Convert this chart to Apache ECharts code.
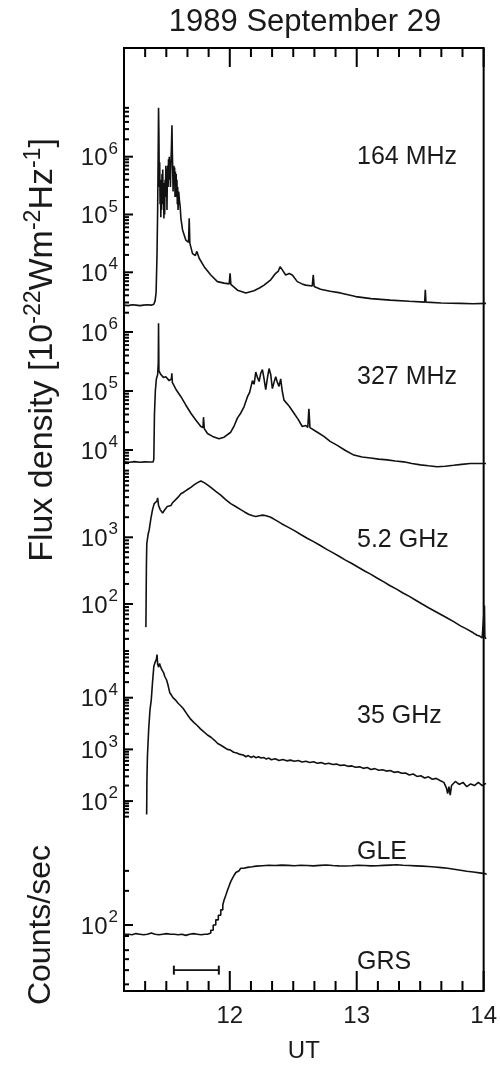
<!DOCTYPE html>
<html><head><meta charset="utf-8">
<script src="https://cdn.jsdelivr.net/npm/echarts@6/dist/echarts.min.js"></script>
<style>html,body{margin:0;padding:0;background:#fff}#c{width:500px;height:1068px}</style>
</head><body><div id="c"></div>
<script>
// ---------------- DATA (UT in decimal hours, flux in 1e-22 W m^-2 Hz^-1) ----------------
const ut164 = [11.167,11.20,11.23,11.26,11.29,11.32,11.35,11.38,11.40,11.41,11.418,11.425,11.430,11.434,11.437,11.440,11.443,11.446,11.449,11.452,11.455,11.458,11.461,11.464,11.467,11.470,11.473,11.476,11.479,11.482,11.485,11.488,11.491,11.494,11.497,11.500,11.503,11.506,11.509,11.512,11.515,11.518,11.521,11.524,11.527,11.530,11.534,11.538,11.542,11.545,11.548,11.551,11.554,11.557,11.560,11.563,11.566,11.569,11.572,11.575,11.578,11.581,11.584,11.587,11.590,11.595,11.600,11.606,11.612,11.625,11.651,11.672,11.677,11.682,11.703,11.725,11.737,11.755,11.794,11.846,11.898,11.95,11.99,11.997,12.003,12.016,12.055,12.12,12.184,12.23,12.263,12.315,12.354,12.375,12.388,12.406,12.432,12.46,12.484,12.523,12.56,12.588,12.64,12.648,12.655,12.705,12.78,12.86,12.98,13.1,13.25,13.4,13.52,13.525,13.53,13.65,13.8,13.9,14.0];
const flux164 = [2700,2650,2750,2700,2650,2700,2750,2700,2800,3200,4500,2.0e4,1.2e5,1.0e6,7.0e6,2.5e6,3.0e5,8.0e5,1.5e5,4.0e5,9.0e4,3.0e5,1.2e5,5.0e5,2.0e5,6.0e5,1.5e5,3.5e5,8.5e4,2.5e5,1.0e5,4.0e5,2.0e5,7.0e5,3.0e5,6.0e5,1.2e5,4.5e5,7.0e5,3.0e5,9.0e5,5.0e5,1.0e6,4.0e5,6.0e5,3.0e5,8.0e5,1.5e6,3.5e6,1.2e6,6.0e5,2.5e5,5.0e5,7.0e5,4.0e5,6.5e5,2.0e5,5.5e5,3.0e5,5.0e5,2.0e5,4.0e5,1.5e5,3.0e5,1.2e5,2.5e5,1.8e5,1.4e5,8.6e4,5.4e4,3.6e4,3.3e4,8.6e4,3.2e4,2.1e4,1.95e4,2.3e4,1.75e4,1.25e4,9.0e3,6.9e3,6.5e3,6.3e3,9.6e3,6.2e3,6.0e3,4.9e3,4.4e3,4.8e3,5.4e3,6.0e3,7.4e3,9.6e3,1.05e4,1.25e4,1.1e4,9.0e3,9.5e3,9.0e3,6.9e3,6.3e3,6.0e3,5.8e3,9.0e3,5.7e3,5.1e3,4.7e3,4.4e3,3.8e3,3.5e3,3.3e3,3.15e3,3.05e3,5.0e3,3.05e3,2.95e3,2.9e3,2.85e3,2.9e3];

const ut327 = [11.167,11.21,11.25,11.29,11.33,11.37,11.395,11.400,11.405,11.412,11.420,11.430,11.435,11.437,11.440,11.455,11.475,11.494,11.52,11.538,11.541,11.545,11.575,11.612,11.65,11.69,11.73,11.768,11.785,11.789,11.795,11.82,11.86,11.91,11.95,12.002,12.03,12.055,12.08,12.106,12.133,12.15,12.172,12.185,12.198,12.211,12.224,12.237,12.25,12.263,12.276,12.29,12.302,12.315,12.328,12.341,12.354,12.367,12.38,12.393,12.405,12.419,12.46,12.497,12.53,12.562,12.59,12.605,12.614,12.622,12.633,12.68,12.731,12.78,12.836,12.9,12.966,13.03,13.096,13.16,13.227,13.29,13.356,13.42,13.487,13.55,13.617,13.68,13.747,13.81,13.877,13.94,14.0];
const flux327 = [6300,6200,6350,6200,6300,6250,6300,7000,4.0e4,1.0e5,1.6e5,1.9e5,3.0e5,1.4e6,2.2e5,1.9e5,1.7e5,1.75e5,1.5e5,1.6e5,2.0e5,1.4e5,1.05e5,8.0e4,5.8e4,4.2e4,3.2e4,2.5e4,2.4e4,3.6e4,2.3e4,1.9e4,1.7e4,1.55e4,1.65e4,2.0e4,2.6e4,3.5e4,4.2e4,5.4e4,8.0e4,9.5e4,1.5e5,1.3e5,2.1e5,1.7e5,1.45e5,2.0e5,2.3e5,1.6e5,1.05e5,1.7e5,2.4e5,1.9e5,1.1e5,1.4e5,1.75e5,1.4e5,1.2e5,1.6e5,1.0e5,7.0e4,5.5e4,4.2e4,3.3e4,2.5e4,2.6e4,2.4e4,5.0e4,2.4e4,2.3e4,2.0e4,1.7e4,1.4e4,1.2e4,9.8e3,8.2e3,7.6e3,7.3e3,7.0e3,6.8e3,6.5e3,6.3e3,5.9e3,5.6e3,5.4e3,5.2e3,5.3e3,5.5e3,5.7e3,5.9e3,5.9e3,5.9e3];

const ut52 = [11.338,11.340,11.342,11.345,11.355,11.364,11.377,11.39,11.403,11.416,11.425,11.43,11.437,11.45,11.469,11.48,11.495,11.505,11.52,11.535,11.547,11.56,11.573,11.59,11.612,11.63,11.651,11.67,11.69,11.715,11.742,11.768,11.794,11.82,11.846,11.885,11.924,11.96,12.002,12.04,12.08,12.11,12.145,12.175,12.198,12.225,12.252,12.28,12.315,12.354,12.40,12.45,12.50,12.55,12.60,12.65,12.70,12.75,12.80,12.85,12.90,12.95,13.00,13.05,13.10,13.15,13.20,13.25,13.30,13.35,13.40,13.45,13.50,13.55,13.60,13.65,13.70,13.75,13.80,13.85,13.90,13.93,13.95,13.97,13.985,13.988,13.991,14.0];
const flux52 = [45,120,370,800,1100,1300,1900,2600,3200,3300,3500,3900,3000,2600,2300,2500,2600,2900,3100,3000,3300,3400,3700,4000,4500,4700,5000,5300,5600,6100,6600,7000,6600,6100,5600,4900,4300,3700,3200,2900,2600,2400,2200,2100,2050,2100,2150,2100,2000,1810,1600,1420,1260,1100,970,860,760,665,590,520,455,405,355,312,278,243,215,188,167,146,130,114,100,88,78,69,61,54,47,42,37,34,33,31,30,95,32,30];

const ut35 = [11.344,11.346,11.350,11.360,11.370,11.380,11.39,11.40,11.412,11.42,11.425,11.43,11.438,11.445,11.45,11.46,11.47,11.478,11.485,11.50,11.51,11.525,11.54,11.55,11.57,11.59,11.61,11.63,11.66,11.69,11.715,11.74,11.765,11.79,11.82,11.85,11.875,11.90,11.925,11.95,11.975,12.00,12.025,12.05,12.075,12.10,12.12,12.14,12.16,12.18,12.20,12.22,12.24,12.26,12.28,12.30,12.32,12.35,12.38,12.41,12.44,12.47,12.50,12.53,12.56,12.59,12.62,12.65,12.68,12.71,12.74,12.77,12.80,12.83,12.86,12.89,12.92,12.95,12.98,13.01,13.04,13.07,13.10,13.13,13.16,13.19,13.22,13.25,13.28,13.31,13.34,13.37,13.40,13.43,13.46,13.49,13.52,13.55,13.58,13.61,13.64,13.67,13.69,13.70,13.71,13.72,13.73,13.76,13.79,13.82,13.85,13.88,13.91,13.94,13.97,14.00];
const flux35 = [55,250,730,2500,5800,9000,2.0e4,4.0e4,5.0e4,5.5e4,6.8e4,4.5e4,3.9e4,4.6e4,4.2e4,3.6e4,3.8e4,3.0e4,2.6e4,2.2e4,1.8e4,1.25e4,1.1e4,1.0e4,9.0e3,7.8e3,7.0e3,6.2e3,4.8e3,3.8e3,3.3e3,2.9e3,2.5e3,2.2e3,1.9e3,1.7e3,1.5e3,1.3e3,1.2e3,1.1e3,1.0e3,970,880,850,800,780,720,760,700,740,690,720,680,700,650,680,630,660,610,640,600,620,590,610,570,590,560,575,540,555,520,540,510,520,490,500,470,480,450,460,430,445,410,425,395,405,380,390,360,370,345,350,320,335,300,310,280,295,265,275,250,230,180,140,190,130,200,240,210,230,190,215,200,230,200,220];

const utGle = [11.167,11.20,11.23,11.26,11.29,11.32,11.35,11.38,11.41,11.44,11.47,11.50,11.53,11.56,11.59,11.62,11.65,11.68,11.71,11.74,11.77,11.80,11.82,11.846,11.865,11.885,11.905,11.924,11.94,11.95,11.965,11.977,11.99,12.002,12.015,12.03,12.042,12.055,12.068,12.08,12.105,12.133,12.17,12.2,12.25,12.3,12.35,12.4,12.45,12.5,12.55,12.6,12.65,12.7,12.75,12.8,12.85,12.9,12.95,13.0,13.05,13.1,13.15,13.2,13.25,13.3,13.35,13.4,13.45,13.5,13.55,13.6,13.65,13.7,13.75,13.8,13.85,13.9,13.95,14.0];
const cntGle = [83,82,84,83,82,83,85,83,82,83,84,83,83,82,83,81,83,84,83,82,83,83,85,90,100,111,122,136,150,166,185,203,222,241,258,276,290,301,310,316,322,326,330,333,336,334,337,335,333,336,334,332,335,338,334,332,331,333,336,334,332,333,335,337,339,336,334,332,330,328,324,320,316,310,304,298,293,288,282,277];

const grsUt = [11.557, 11.909];
const grsCount = [40, 40];

// tick values
const xMajorTicks = [12, 13, 14];
const xMinorMinutes = [20,30,40,50,70,80,90,100,110,130,140,150,160,170];

const panelLabels = ['164 MHz', '327 MHz', '5.2 GHz', '35 GHz', 'GLE', 'GRS'];

const yMajor = [
  [1e4, 1e5, 1e6],
  [1e4, 1e5, 1e6],
  [1e2, 1e3],
  [1e2, 1e3, 1e4],
  [1e2]
];
const yMinor = [
  [2e3,3e3,4e3,5e3,6e3,7e3,8e3,9e3, 2e4,3e4,4e4,5e4,6e4,7e4,8e4,9e4, 2e5,3e5,4e5,5e5,6e5,7e5,8e5,9e5, 2e6,3e6,4e6,5e6,6e6,7e6],
  [6e3,7e3,8e3,9e3, 2e4,3e4,4e4,5e4,6e4,7e4,8e4,9e4, 2e5,3e5,4e5,5e5,6e5,7e5,8e5,9e5],
  [30,40,50,60,70,80,90, 200,300,400,500,600,700,800,900, 2e3,3e3,4e3,5e3,6e3,7e3,8e3,9e3, 1e4],
  [50,60,70,80,90, 200,300,400,500,600,700,800,900, 2e3,3e3,4e3,5e3,6e3,7e3,8e3,9e3, 2e4,3e4,4e4,5e4,6e4,7e4,8e4],
  [30,40,50,60,80, 200,300]
];

// ---------------- LAYOUT ----------------
const FONT = '"Liberation Sans", Arial, Helvetica, sans-serif';
const TXT = '#1a1a1a';
const X_MIN = 11 + 10/60, X_MAX = 14;
const FRAME = {left: 124, top: 48, width: 362, height: 961};
const panels = [
  {top: 48,  height: 272, lo: 3.1747, hi: 7.8806},
  {top: 320, height: 148, lo: 3.6949, hi: 6.2034},
  {top: 468, height: 180, lo: 1.3403, hi: 4.0390},
  {top: 648, height: 174, lo: 1.5957, hi: 4.9613},
  {top: 822, height: 187, lo: 1.2599, hi: 2.9075}
];
const labelY = [157, 377, 540, 716, 852, 962];
const TICK = {yMajor: 9, yMinor: 5, xMajorB: 20, xMinorB: 10, xMajorT: 19, xMinorT: 9, w: 2};

const series = [
  [ut164, flux164], [ut327, flux327], [ut52, flux52], [ut35, flux35], [utGle, cntGle]
];

const grid = [], xAxis = [], yAxis = [], seriesOpt = [];
const lg = v => Math.log10(v);
const supRich = {
  b: {fontSize: 24, fontFamily: FONT, color: TXT, lineHeight: 28, verticalAlign: 'bottom'},
  s: {fontSize: 17, fontFamily: FONT, color: TXT, lineHeight: 17, verticalAlign: 'bottom', padding: [0, 0, 13, 1]}
};

panels.forEach((p, i) => {
  grid.push({left: FRAME.left, width: FRAME.width, top: p.top, height: p.height, containLabel: false});
  xAxis.push({type: 'value', gridIndex: i, min: X_MIN, max: X_MAX, show: false});
  yAxis.push({
    type: 'value', gridIndex: i, min: p.lo, max: p.hi, position: 'left',
    axisLine: {show: false}, splitLine: {show: false}, axisTick: {show: false},
    axisLabel: {show: true, margin: 6, customValues: yMajor[i].map(lg),
      formatter: v => '{b|10}{s|' + Math.round(v) + '}', rich: supRich}
  });
  const [t, v] = series[i];
  seriesOpt.push({
    type: 'line', xAxisIndex: i, yAxisIndex: i, showSymbol: false, symbol: 'none',
    step: i === 4 ? 'end' : false,
    data: t.map((tt, k) => [tt, lg(v[k])]),
    lineStyle: {color: '#111', width: 1.6}, silent: true
  });
});

// GRS bar (in the counts panel)
seriesOpt.push({
  type: 'line', xAxisIndex: 4, yAxisIndex: 4, symbol: 'rect', symbolSize: [2, 9], showSymbol: true,
  itemStyle: {color: '#111'}, lineStyle: {color: '#111', width: 1.6},
  data: grsUt.map((tt, k) => [tt, lg(grsCount[k])]), silent: true
});

// frame grid
const FG = panels.length;
grid.push({left: FRAME.left, top: FRAME.top, width: FRAME.width, height: FRAME.height,
  show: true, borderColor: '#000', borderWidth: 2, backgroundColor: 'transparent'});
const minorX = xMinorMinutes.map(m => 11 + m / 60);
xAxis.push({
  type: 'value', gridIndex: FG, min: X_MIN, max: X_MAX, position: 'bottom',
  axisLine: {show: false}, splitLine: {show: false}, axisTick: {show: false},
  axisLabel: {show: true, customValues: xMajorTicks, margin: 13, fontSize: 24, fontFamily: FONT, color: TXT,
    formatter: v => String(Math.round(v))},
  name: 'UT', nameLocation: 'middle', nameGap: 48,
  nameTextStyle: {fontSize: 24, fontFamily: FONT, color: TXT}
});
yAxis.push({type: 'value', gridIndex: FG, min: 0, max: 1, show: false});

const graphic = [
  {type: 'text', x: 305, y: 22, style: {text: '1989 September 29', fontSize: 31, fontFamily: FONT, fill: TXT, align: 'center', verticalAlign: 'middle'}},
  {type: 'text', x: 41, y: 350, rotation: Math.PI / 2, style: {
    text: '{a|Flux density [10}{s|-22}{a|Wm}{s|-2}{a|Hz}{s|-1}{a|]}',
    rich: {
      a: {fontSize: 34, fontFamily: FONT, fill: TXT, color: TXT, lineHeight: 38, verticalAlign: 'bottom'},
      s: {fontSize: 23, fontFamily: FONT, fill: TXT, color: TXT, lineHeight: 23, verticalAlign: 'bottom', padding: [0, 0, 15, 0]}
    },
    align: 'center', verticalAlign: 'middle'}},
  {type: 'text', x: 41, y: 925, rotation: Math.PI / 2, style: {text: 'Counts/sec', fontSize: 32, fontFamily: FONT, fill: TXT, align: 'center', verticalAlign: 'middle'}}
];
panelLabels.forEach((t, k) => graphic.push({type: 'text', x: 357, y: labelY[k],
  style: {text: t, fontSize: 25, fontFamily: FONT, fill: TXT, align: 'left', verticalAlign: 'middle'}}));

const chart = echarts.init(document.getElementById('c'), null, {renderer: 'canvas'});
chart.setOption({
  animation: false, backgroundColor: '#fff',
  grid, xAxis, yAxis, series: seriesOpt, graphic
});

// tick marks: positions obtained from the chart's own axis scales
const tickEls = [];
function addTick(finder, value, dx, dy) {
  const p = chart.convertToPixel(finder, value);
  if (!p || !isFinite(p[0]) || !isFinite(p[1])) return;
  tickEls.push({type: 'line', silent: true, z: 100,
    shape: {x1: p[0], y1: p[1], x2: p[0] + dx, y2: p[1] + dy},
    style: {stroke: '#000', lineWidth: TICK.w}});
}
panels.forEach((p, i) => {
  const f = {xAxisIndex: i, yAxisIndex: i};
  yMajor[i].forEach(v => addTick(f, [X_MIN, lg(v)], TICK.yMajor, 0));
  yMinor[i].forEach(v => addTick(f, [X_MIN, lg(v)], TICK.yMinor, 0));
});
const ff = {xAxisIndex: FG, yAxisIndex: FG};
minorX.forEach(t => { addTick(ff, [t, 0], 0, -TICK.xMinorB); addTick(ff, [t, 1], 0, TICK.xMinorT); });
xMajorTicks.forEach(t => { addTick(ff, [t, 0], 0, -TICK.xMajorB); addTick(ff, [t, 1], 0, TICK.xMajorT); });
chart.setOption({graphic: graphic.concat(tickEls)});
</script>
</body></html>
